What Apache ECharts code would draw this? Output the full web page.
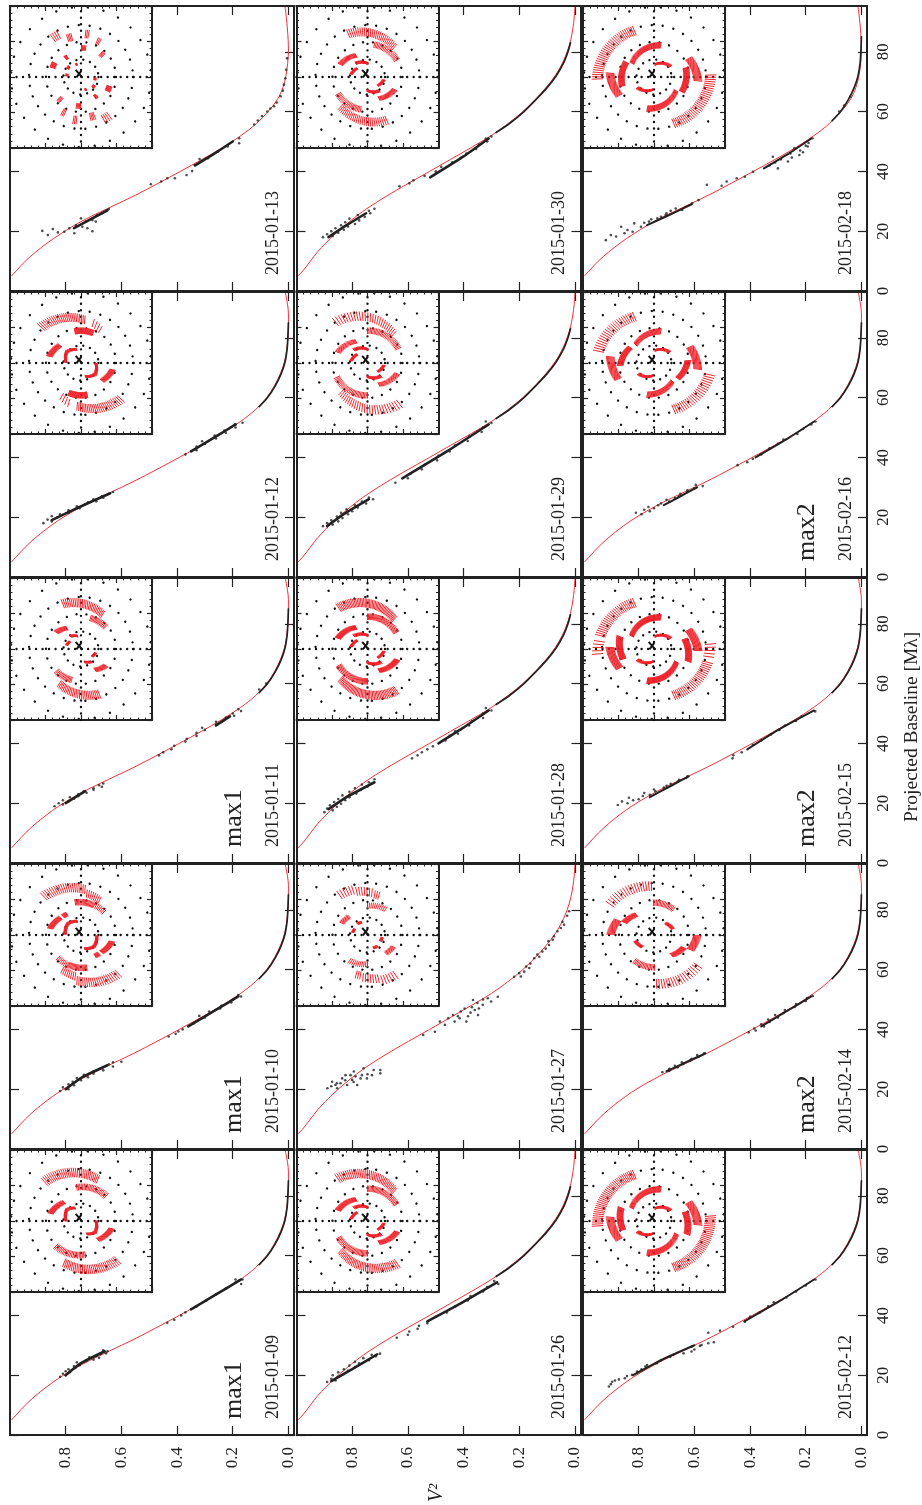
<!DOCTYPE html>
<html><head><meta charset="utf-8">
<style>html,body{margin:0;padding:0;background:#fff}#c{width:922px;height:1505px}</style>
<script src="https://cdn.jsdelivr.net/npm/echarts@6/dist/echarts.min.js"></script>
</head><body><div id="c"></div>
<script>
// ---------- tick labels and annotation text
const vTicks = [0, 0.2, 0.4, 0.6, 0.8];
const bTicks = [0, 20, 40, 60, 80];
const ringRadii = [24.6, 49.3, 73.2, 98.6];
const ringDotGaps = [7, 10, 11, 16];
// order: column by column, bottom row first in the picture
const dates = [
 ['2015-01-09','2015-01-10','2015-01-11','2015-01-12','2015-01-13'],
 ['2015-01-26','2015-01-27','2015-01-28','2015-01-29','2015-01-30'],
 ['2015-02-12','2015-02-14','2015-02-15','2015-02-16','2015-02-18']];
const tags = [['max1','max1','max1','',''],['','','','',''],['','max2','max2','max2','']];

// ---------- model curves [baseline, V2]
const curveA = [[5,.995],[7,.975],[10,.945],[13,.91],[16,.87],[19,.825],[22,.772],[25,.712],[28,.645],[32,.555],[36,.472],[40,.392],[44,.313],[48,.238],[52,.172],[56,.118],[60,.078],[64,.05],[68,.029],[72,.014],[76,.006],[80,.002],[84,0],[88,0],[91,.003],[95,.011]];
const curveB = [[5,.995],[7,.975],[10,.95],[13,.925],[16,.895],[19,.862],[22,.825],[25,.785],[28,.74],[32,.672],[36,.598],[40,.522],[44,.447],[48,.372],[52,.30],[56,.24],[60,.187],[64,.143],[68,.104],[72,.071],[76,.046],[80,.028],[84,.015],[88,.007],[91,.003],[95,0]];
const curveC = [[5,.995],[7,.975],[10,.945],[13,.908],[16,.867],[19,.82],[22,.768],[25,.708],[28,.64],[32,.55],[36,.468],[40,.388],[44,.31],[48,.235],[52,.17],[56,.115],[60,.073],[64,.04],[68,.02],[72,.009],[76,.003],[80,0],[84,.001],[88,.004],[91,.007],[95,.012]];

// ---------- tight parts of the data clouds (polylines through the dense core)
const tailA = [[57,.105],[60,.075],[64,.047],[68,.026],[72,.012],[76,.005],[80,.002],[85,0]];
const tailB = [[53,.283],[56,.235],[60,.183],[64,.14],[68,.10],[72,.067],[76,.042],[80,.025],[83,.016]];
const core0109 = [[[20,.80],[24,.745],[28,.66]],[[42,.35],[47,.26],[52,.17]]];
const core0110 = [[[20,.80],[24,.74],[28,.65]],[[41,.36],[46,.27],[51,.18]]];
const core0111 = [[[20,.80],[24,.73]],[[46,.26],[49,.21]]];
const core0112 = [[[19,.85],[23,.76],[28,.64]],[[42,.35],[47,.26],[51,.19]]];
const core0113 = [[[21,.77],[27,.65]],[[42,.335],[46,.265],[50,.2]]];
const core0126 = [[[18,.875],[22,.80],[27,.71]],[[38,.53],[44,.41],[51,.28]]];
const core0127 = [];
const core0128 = [[[18,.885],[22,.82],[27,.72]],[[40,.49],[45,.405],[51,.31]]];
const core0129 = [[[17,.89],[21,.83],[26,.74]],[[33,.62],[42,.46],[51,.31]]];
const core0130 = [[[18,.885],[22,.82],[26,.75]],[[38,.52],[45,.40],[51,.31]]];
const core0212 = [[[20,.82],[25,.72],[30,.60]],[[38,.42],[45,.29],[52,.17]]];
const core0214 = [[[26,.70],[29,.63],[32,.56]],[[41,.36],[46,.27],[51,.18]]];
const core0215 = [[[22,.76],[26,.68],[29,.62]],[[38,.41],[45,.29],[51,.17]]];
const core0216 = [[[24,.71],[27,.65],[30,.59]],[[40,.38],[46,.27],[52,.17]]];
const core0218 = [[[22,.77],[25,.70],[29,.61]],[[41,.35],[46,.26],[51,.18]]];
const tailOf = [[tailA,tailA,tailA,tailA,null],[tailB,null,tailB,tailB,tailB],[tailA,tailA,tailA,tailA,tailA]];

// ---------- individual black points [baseline, V2]
const pts0109 = [[19.5,.82],[20,.80],[20.5,.81],[21,.785],[21.3,.80],[22,.79],[22.4,.765],[23,.77],[23.3,.75],[24,.745],[24.3,.76],[25,.725],[25.2,.70],[26,.715],[26.4,.69],[27,.675],[27.3,.655],[28,.65],[28.3,.665],[25.8,.68],[37.5,.435],[38.5,.41],[40,.385],[41,.37],[43,.33],[45,.295],[47,.26],[49,.225],[51,.19],[52,.165],[51.5,.18],[52,.19],[50.5,.17]];
const pts0110 = [[19.4,.82],[20,.79],[20.6,.81],[21.3,.77],[21.6,.79],[22.5,.775],[23,.745],[23.7,.76],[24,.72],[24.8,.735],[25.2,.70],[26,.70],[26.3,.665],[27,.67],[27.6,.63],[28.3,.645],[29,.63],[29.2,.60],[37.6,.43],[38.5,.405],[39.3,.395],[40,.38],[42,.34],[44,.30],[44.5,.32],[46,.285],[47,.245],[48,.24],[49,.205],[50,.20],[51,.17],[51.5,.18]];
const pts0111 = [[19,.84],[19.6,.81],[20,.825],[20.6,.79],[21,.81],[21.5,.77],[22,.785],[22.3,.755],[23,.755],[23.5,.725],[24,.735],[24.5,.70],[25,.70],[25.5,.67],[26,.68],[26.6,.665],[36,.465],[37,.45],[38,.42],[39.2,.41],[40.6,.37],[41.5,.365],[42.5,.33],[43.5,.33],[44.5,.30],[45.2,.31],[46.3,.26],[47.2,.26],[47.5,.235],[48.6,.225],[49.2,.195],[50,.20],[50.8,.17],[51.4,.18],[58,.105],[60,.08]];
const pts0112 = [[18,.88],[18.6,.85],[19.2,.865],[20,.83],[20.3,.85],[21,.82],[21.6,.79],[22.3,.79],[23,.75],[23.6,.76],[24.3,.73],[25,.72],[25.3,.69],[26,.70],[26.5,.665],[27,.67],[27.8,.645],[28.4,.63],[41,.37],[42.4,.33],[43.6,.33],[44.5,.30],[45.4,.31],[46.3,.26],[47.3,.265],[48.2,.225],[49,.23],[50,.19],[51,.19],[51.6,.165]];
const pts0113 = [[20.1,.884],[18.7,.864],[20.7,.846],[19.6,.828],[19.8,.805],[21,.787],[19.3,.769],[22,.763],[24.3,.745],[21.5,.74],[21,.722],[20,.704],[23.2,.728],[23.7,.704],[25.4,.686],[26,.668],[27.4,.645],[23.2,.692],[35.7,.494],[36.6,.457],[37.7,.435],[37.7,.408],[38.8,.366],[40.1,.346],[42.1,.337],[44.1,.319],[44.4,.289],[46.6,.254],[48.3,.218],[49.4,.177],[51.1,.177],[55.7,.123],[57,.11],[58.5,.095],[60,.076],[61,.065],[61.8,.052],[63,.042],[65.1,.028],[67,.02],[69,.016],[71.1,.011],[74,.008],[77.8,.005]];
const pts0126 = [[17.7,.89],[18.2,.86],[18.8,.875],[19.5,.85],[20,.87],[20.4,.83],[21,.85],[21.5,.815],[22,.83],[22.7,.79],[23.2,.81],[24,.775],[24.5,.79],[25,.74],[25.7,.76],[26.3,.715],[26.8,.73],[27.2,.70],[32.5,.64],[33.5,.60],[34.6,.595],[35.5,.565],[36.5,.56],[37.4,.53],[39.5,.50],[41,.46],[43,.43],[45,.385],[46.5,.375],[48,.33],[49.5,.315],[50.5,.275],[51.5,.29]];
const pts0127 = [[20.3,.889],[22.5,.872],[20.3,.854],[23.6,.836],[24.7,.824],[21.4,.818],[23.1,.80],[25.9,.794],[21.4,.782],[23.6,.77],[27,.759],[23.6,.747],[24.7,.729],[26.4,.723],[26.4,.699],[25.3,.699],[21.4,.86],[22,.842],[24.7,.806],[24.3,.788],[24.7,.765],[21,.875],[22,.855],[23,.825],[22.4,.795],[25,.745],[38.1,.545],[39.2,.503],[42.6,.485],[41.5,.467],[43.7,.455],[44.8,.438],[42.6,.432],[43.7,.414],[47,.396],[42.6,.39],[49.8,.366],[46.5,.36],[44.8,.348],[48.2,.331],[50.4,.313],[49.3,.301],[50.9,.277],[44.4,.42],[44.4,.384],[46,.41],[45.6,.375],[47.4,.37],[47,.345],[48.8,.35],[50,.33],[57.6,.218],[59.3,.182],[63.8,.146],[66,.117],[68.2,.093],[72.8,.063],[75,.039],[79.5,.021],[57.7,.194],[60.5,.164],[64.3,.128],[71.1,.075],[73.9,.051],[62,.16],[65,.135],[67,.105],[69.5,.095],[70,.08],[76,.045],[78,.028],[58.8,.20],[61,.175]];
const pts0128 = [[17,.90],[17.6,.87],[18.2,.89],[18.8,.855],[19.3,.88],[19.8,.84],[20.4,.865],[21,.825],[21.4,.85],[22,.81],[22.6,.835],[23.2,.785],[23.8,.81],[24.4,.77],[25,.79],[25.6,.745],[26.2,.765],[27,.74],[28,.72],[35,.585],[36,.565],[37,.55],[38,.53],[39,.51],[41,.465],[42.5,.45],[43.2,.42],[44,.43],[46,.38],[47.5,.37],[48.5,.33],[50,.33],[51,.30],[51.8,.32]];
const pts0129 = [[17,.905],[17.5,.87],[18,.89],[18.6,.85],[19,.875],[19.7,.835],[20.2,.855],[21,.815],[21.5,.84],[22,.80],[22.6,.82],[23.2,.78],[24,.79],[24.6,.75],[25.2,.765],[26,.725],[26.6,.74],[31.5,.645],[33,.60],[34.6,.59],[36,.55],[37.5,.54],[39,.495],[40.5,.49],[42,.45],[44,.43],[45.5,.385],[47,.38],[48.5,.335],[50,.33],[51.5,.30],[52,.32]];
const pts0130 = [[18,.905],[18.4,.87],[19,.89],[19.5,.85],[20,.875],[20.5,.83],[21,.86],[21.6,.815],[22,.84],[22.4,.79],[23,.825],[23.6,.775],[24.2,.81],[24.8,.755],[25.4,.78],[26,.735],[26.8,.74],[27.5,.72],[35,.63],[36,.595],[37,.58],[38.5,.54],[40,.50],[41.5,.48],[43,.44],[44.5,.41],[46,.39],[47.5,.355],[49,.345],[50,.315],[51,.32],[51.7,.30]];
const pts0212 = [[16.2,.907],[17.8,.895],[18.6,.871],[19.7,.842],[20.1,.824],[21.2,.806],[22.9,.776],[24,.735],[26.2,.687],[27.3,.639],[27.9,.61],[30.1,.574],[30.7,.55],[34.2,.55],[34.9,.508],[36.2,.461],[37.9,.419],[17,.90],[18.2,.885],[19,.85],[22,.79],[23.4,.77],[25,.72],[26.8,.675],[28.6,.60],[29.5,.61],[29.8,.58],[31,.53],[39.5,.40],[41,.365],[43,.335],[44.4,.315],[46,.27],[48,.235],[50,.20],[52,.165]];
const pts0214 = [[25.7,.715],[26.2,.69],[26.8,.69],[27.3,.66],[27.8,.67],[28.4,.64],[29,.645],[29.6,.615],[30.2,.61],[30.8,.585],[31.4,.59],[32,.565],[39,.405],[39.6,.38],[40.3,.385],[41,.35],[41.7,.36],[42.5,.33],[43.3,.335],[44,.30],[44.8,.31],[45.5,.28],[46.5,.275],[47.5,.24],[48.5,.235],[49.5,.20],[50.5,.195],[51.2,.175]];
const pts0215 = [[19.4,.875],[20,.84],[20.6,.86],[21,.82],[21.3,.80],[21.8,.835],[22.4,.785],[22.8,.76],[23.4,.78],[24,.74],[24.6,.745],[25.2,.71],[25.8,.70],[26.5,.685],[27.2,.66],[27.8,.655],[28.4,.63],[29,.625],[35,.463],[36,.46],[37,.43],[39.5,.39],[41,.36],[43,.325],[44.5,.295],[46,.275],[47.5,.235],[49,.215],[50.7,.166]];
const pts0216 = [[21,.79],[21.5,.81],[22,.76],[22.5,.78],[23,.745],[23.4,.765],[24,.73],[24.6,.72],[25.2,.69],[25.8,.70],[26.4,.67],[27,.655],[27.8,.65],[28.4,.625],[29,.625],[29.7,.60],[30.4,.57],[30.8,.595],[37.4,.445],[38.4,.41],[39.5,.39],[41,.36],[43,.33],[44.5,.30],[46,.28],[47.8,.23],[49.5,.21],[51,.18],[52,.165]];
const pts0218 = [[17,.918],[18.7,.90],[18.2,.881],[21.5,.863],[19.3,.851],[20.4,.84],[22.6,.816],[19.8,.822],[21.5,.792],[23.2,.763],[24.3,.733],[25.4,.703],[27.6,.667],[27.1,.644],[29.3,.608],[30.4,.585],[35.5,.555],[35.2,.502],[36.6,.484],[37.7,.448],[38.2,.419],[39.9,.389],[44.9,.318],[43.3,.264],[47.7,.241],[45.5,.223],[48.3,.193],[51.1,.176],[44,.29],[46,.255],[44.6,.25],[47,.22],[49.5,.19],[48.6,.20],[46.4,.21],[43,.31],[42,.33],[41,.30],[26,.70],[24.8,.72],[26.8,.685],[22.8,.78],[24,.755],[60,.08],[62,.062],[65,.04]];

// ---------- uv tracks: [angle from, angle to, radius from, radius to, hatch spacing]; point-mirrored when drawn
const arcs0109 = [[133,68,68,57,2.2],[97,45,43,45,2.5],[166,132,40,32,1.2],[180,142,19,23,1.5],[142,114,23,18,1.5]];
const arcs0110 = [[134,85,68,58,2.5],[82,62,53,50,3],[100,68,42,41,2],[66,45,42,41,3],[168,140,40,34,1.2],[134,124,33,32,1.2],[177,140,20,22,1.5],[140,105,22,18,1.5]];
const arcs0111 = [[112,58,62,52,2.2],[73,42,41,42,2.2],[146,124,38,32,1.2],[130,105,21,17,1.5],[165,146,19,17,1.5]];
const arcs0112 = [[138,85,68,55,2.2],[73,60,53,49,4],[101,68,41,41,1.2],[168,140,41,35,1.2],[178,142,19,23,1.5],[142,108,23,18,1.5]];
const arcs0113 = [[126,118,61,61,2.5],[109,103,52,52,2],[84,80,55,55,2],[66,62,50,50,2],[89,81,37,37,2],[50,44,39,39,1.5],[130,124,31,31,1.2],[162,152,38,38,1.2],[148,138,20,20,1.5],[176,168,18,18,1.5],[113,107,17,17,1.5]];
const arcs0126 = [[125,48,66,51,2.2],[90,30,41,42,2.2],[160,118,40,31,1.2],[136,88,24,17,1.5],[172,140,21,17,1.5]];
const arcs0127 = [[125,108,62,60,3.5],[104,84,57,54,3.5],[80,74,52,52,3],[90,55,37,40,3.5],[155,135,36,33,2],[132,115,19,18,1.5],[170,155,19,18,1.5]];
const arcs0128 = [[125,48,64,51,1.8],[90,30,41,42,1.8],[160,118,40,31,1],[136,88,24,17,1.5],[172,140,21,17,1.5]];
const arcs0129 = [[128,48,66,50,3.2],[90,25,41,43,2.5],[160,118,40,31,1.8],[136,88,24,17,1.5],[172,140,21,17,1.5]];
const arcs0130 = [[114,48,60,51,2.5],[78,30,42,43,2.5],[155,118,38,31,1.5],[130,88,23,17,1.5],[170,140,21,17,1.5]];
const arcs0212 = [[185,113,72,64,2],[208,175,50,56,1.3],[196,158,41,45,1.1],[150,78,33,41,1.3],[85,33,16,25,1.5]];
const arcs0214 = [[145,93,68,62,3],[91,53,41,41,2.5],[179,158,55,50,1.3],[157,131,41,34,1.1],[46,18,21,25,1.5]];
const arcs0215 = [[185,172,72,70,3],[166,113,70,64,2.2],[209,178,50,56,1.1],[198,160,41,46,1],[150,78,33,41,1],[85,33,16,25,1.5]];
const arcs0216 = [[168,113,72,64,2.5],[204,172,50,56,1.3],[184,147,43,36,1.1],[135,78,33,41,1.5],[85,35,16,24,1.5]];
const arcs0218 = [[182,113,72,64,2.2],[208,175,50,56,1.3],[196,152,42,40,1.1],[148,78,33,41,1.3],[85,33,16,25,1.5]];
const centerMark = [[-7.5,10],[2,-1],null,[-6.5,-0.5],[0.5,8.5]];
const crossH = [[-100,0],[100,0]];
const crossV = [[0,-100],[0,100]];

const curvesOf = [[curveA,curveA,curveA,curveA,curveC],[curveB,curveB,curveB,curveB,curveB],[curveA,curveA,curveA,curveA,curveC]];
const ptsOf = [[pts0109,pts0110,pts0111,pts0112,pts0113],[pts0126,pts0127,pts0128,pts0129,pts0130],[pts0212,pts0214,pts0215,pts0216,pts0218]];
const coresOf = [[core0109,core0110,core0111,core0112,core0113],[core0126,core0127,core0128,core0129,core0130],[core0212,core0214,core0215,core0216,core0218]];
const arcsOf = [[arcs0109,arcs0110,arcs0111,arcs0112,arcs0113],[arcs0126,arcs0127,arcs0128,arcs0129,arcs0130],[arcs0212,arcs0214,arcs0215,arcs0216,arcs0218]];

// ---------- layout
const colX = [10, 296.5, 583];
const rowBottomFirst = [1150, 864, 578, 292, 6];
const coreWidth = [2.6, 2.6, 2];
const W = 284, H = 285, IN = 142;
const INK = '#222', RED = '#ee1c25', SERIF = '"Liberation Serif", serif';
const HATCH = 1.22;

const grid = [], xAxis = [], yAxis = [], series = [], graphic = [];
const rotText = (text, x, y, size, italic) => graphic.push({type:'text', x, y, rotation:Math.PI/2, z:50,
  style:{text, fill:INK, textAlign:'left', textVerticalAlign:'middle', font:(italic?'italic ':'')+size+'px '+SERIF}});

function mainX(g, pos, labels){ return {type:'value', gridIndex:g, position:pos, inverse:true, min:-0.02, max:1.0, splitLine:{show:false},
  axisLine:{show:true,onZero:false,lineStyle:{color:INK,width:2}},
  axisTick:{show:true,inside:true,length:9,customValues:vTicks,lineStyle:{color:INK,width:1.2}},
  axisLabel:{show:labels,customValues:vTicks,rotate:90,margin:12,color:INK,fontFamily:'Liberation Serif',fontSize:17,formatter:v=>v.toFixed(1)}}; }
function mainY(g, pos, labels){ return {type:'value', gridIndex:g, position:pos, min:0, max:95.3, splitLine:{show:false},
  axisLine:{show:true,onZero:false,lineStyle:{color:INK,width:2}},
  axisTick:{show:true,inside:true,length:9,customValues:bTicks,lineStyle:{color:INK,width:1.2}},
  axisLabel:{show:labels,customValues:bTicks,rotate:90,margin:8,color:INK,fontFamily:'Liberation Serif',fontSize:17}}; }
function insetAxis(g, pos){ return {type:'value', gridIndex:g, position:pos, min:-100, max:100, interval:50, splitLine:{show:false}, z:6,
  axisLine:{show:true,onZero:false,lineStyle:{color:INK,width:2}},
  axisTick:{show:true,inside:true,length:5,lineStyle:{color:INK,width:1.2}},
  minorTick:{show:true,splitNumber:5,length:2.5,lineStyle:{color:INK,width:1}},
  axisLabel:{show:false}}; }

function renderRing(params, api){
  const c = api.coord([0,0]), r = api.size([api.value(0),0])[0];
  return {type:'circle', shape:{cx:c[0],cy:c[1],r}, silent:true,
    style:{fill:'none',stroke:'#111',lineWidth:2.4,lineCap:'round',lineDash:[0.01,api.value(1)]}};
}
function renderArc(params, api){
  const a0=api.value(0), a1=api.value(1), r0=api.value(2), r1=api.value(3), st=api.value(4);
  const n=Math.max(1,Math.round(Math.abs(a1-a0)/st)), children=[];
  for(const flip of [0,180]) for(let i=0;i<=n;i++){
    const t=i/n, a=(a0+(a1-a0)*t+flip)*Math.PI/180, r=r0+(r1-r0)*t;
    const p=api.coord([r*Math.cos(a),r*Math.sin(a)]), q=api.coord([r*HATCH*Math.cos(a),r*HATCH*Math.sin(a)]);
    children.push({type:'line',shape:{x1:p[0],y1:p[1],x2:q[0],y2:q[1]},silent:true,style:{stroke:RED,lineWidth:0.95}});
  }
  return {type:'group',children};
}

dates.forEach((col, c) => col.forEach((date, r) => {
  const left = colX[c], top = rowBottomFirst[r], bottom = top + H;
  // main panel
  const g = grid.length;
  grid.push({left, top, width:W, height:H, containLabel:false});
  const xi = xAxis.length, yi = yAxis.length;
  xAxis.push(mainX(g,'bottom',r===0), mainX(g,'top',false));
  yAxis.push(mainY(g,'right',c===2), mainY(g,'left',false));
  const base = {xAxisIndex:xi, yAxisIndex:yi};
  const swap = a => a.map(p => p && [p[1],p[0]]);
  series.push(Object.assign({type:'line',data:swap(curvesOf[c][r]),smooth:0.35,showSymbol:false,z:3,silent:true,
    lineStyle:{color:RED,width:0.9}},base));
  coresOf[c][r].forEach(seg => series.push(Object.assign({type:'line',data:swap(seg),showSymbol:false,smooth:0.2,z:4,silent:true,
    lineStyle:{color:INK,width:coreWidth[c],cap:'round'}},base)));
  if (tailOf[c][r]) series.push(Object.assign({type:'line',data:swap(tailOf[c][r]),showSymbol:false,smooth:0.3,z:4,silent:true,
    lineStyle:{color:INK,width:1.7,cap:'round'}},base));
  series.push(Object.assign({type:'scatter',data:swap(ptsOf[c][r]),symbolSize:2.6,z:5,silent:true,itemStyle:{color:INK}},base));
  // inset
  const gi = grid.length;
  grid.push({left, top, width:IN, height:IN, show:true, backgroundColor:'#fff', borderWidth:0, z:5});
  const xj = xAxis.length, yj = yAxis.length;
  xAxis.push(insetAxis(gi,'bottom'), insetAxis(gi,'top'));
  yAxis.push(insetAxis(gi,'left'), insetAxis(gi,'right'));
  const ib = {xAxisIndex:xj, yAxisIndex:yj};
  series.push(Object.assign({type:'custom',coordinateSystem:'cartesian2d',renderItem:renderRing,z:6,silent:true,
    encode:{x:0,y:1},data:ringRadii.map((v,i)=>[v,ringDotGaps[i]])},ib));
  [crossH,crossV].forEach(seg => series.push(Object.assign({type:'line',data:seg,showSymbol:false,z:6,silent:true,
    lineStyle:{color:'#111',width:2.4,type:[0.01,6.5],cap:'round'}},ib)));
  series.push(Object.assign({type:'custom',coordinateSystem:'cartesian2d',renderItem:renderArc,z:7,silent:true,
    encode:{x:0,y:1},data:arcsOf[c][r]},ib));
  series.push(Object.assign({type:'line',data:centerMark,connectNulls:false,showSymbol:false,z:8,silent:true,
    lineStyle:{color:'#111',width:2}},ib));
  // annotations
  rotText(date, left+263, bottom-16, 18);
  if (tags[c][r]) rotText(tags[c][r], left+224, bottom-16, 26);
}));
rotText('Projected Baseline [M\u03bb]', 912, 822, 19.5);
rotText('V\u00b2', 437, 1502, 20, true);

const chart = echarts.init(document.getElementById('c'), null, {renderer:'canvas', width:922, height:1505});
chart.setOption({animation:false, backgroundColor:'#fff', grid, xAxis, yAxis, series, graphic, tooltip:{show:false}});
</script></body></html>
